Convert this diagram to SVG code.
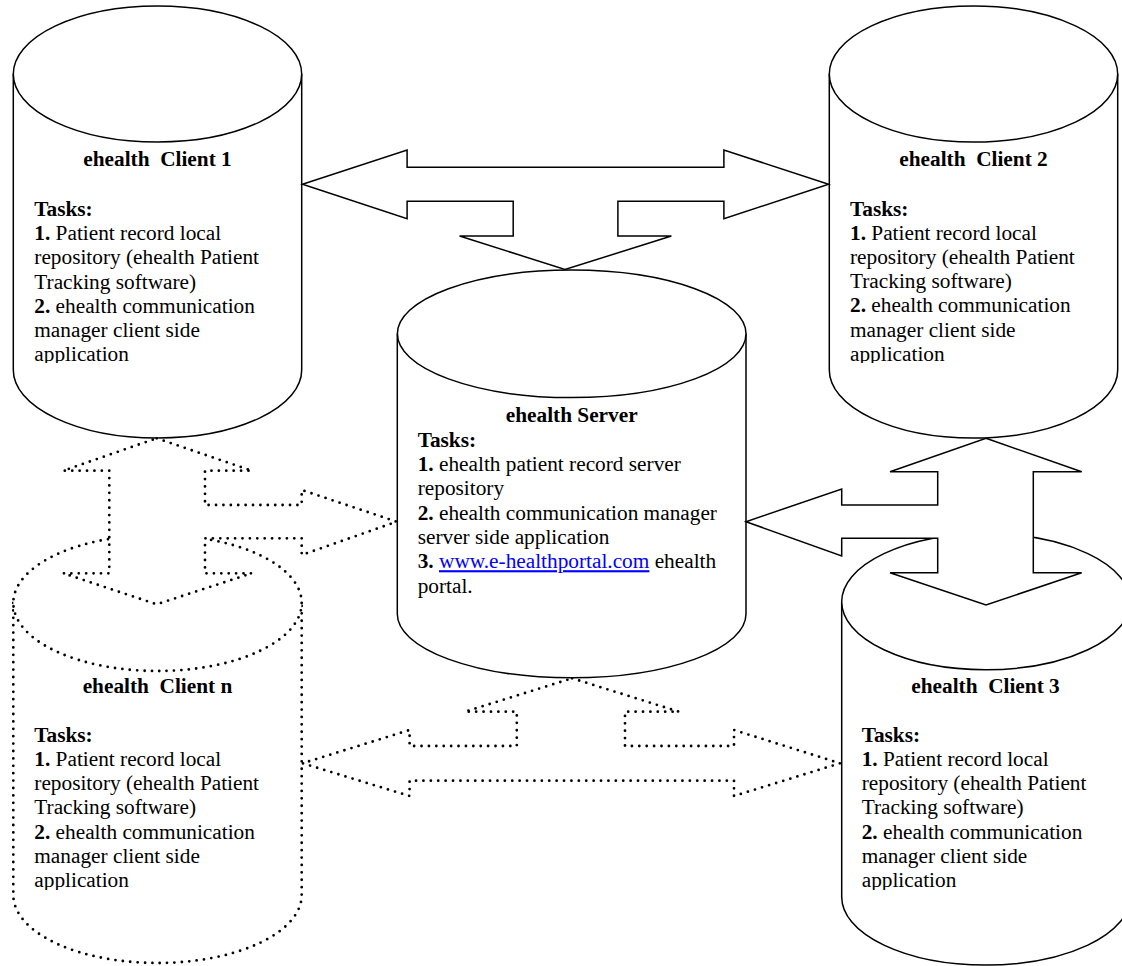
<svg xmlns="http://www.w3.org/2000/svg" width="1122" height="966" viewBox="0 0 1122 966">
<style>
.s{fill:#fff;stroke:#000;stroke-width:1.5}
.d{fill:#fff;stroke:#000;stroke-width:2.8;stroke-dasharray:0 7.4;stroke-linecap:round;stroke-linejoin:round}
text{font-family:"Liberation Serif","Times New Roman",serif;font-size:21.3px;fill:#000}
.b{font-weight:bold}
.lbl{font-weight:bold;text-anchor:middle}
.lnk{fill:#0000FF;text-decoration:underline}
</style>
<defs>
<clipPath id="c1"><rect x="0" y="140" width="320" height="223"/></clipPath>
<clipPath id="c2"><rect x="820" y="140" width="302" height="223"/></clipPath>
<clipPath id="cn"><rect x="0" y="670" width="320" height="220"/></clipPath>
<clipPath id="c3"><rect x="840" y="670" width="282" height="220"/></clipPath>
</defs>
<rect width="1122" height="966" fill="#fff"/>

<g id="client1">
<path class="s" d="M13.3,74 V370 A144.2,68 0 0 0 301.7,370 V74"/>
<ellipse class="s" cx="157.5" cy="74" rx="144.2" ry="68"/>
<text class="lbl" x="157.5" y="165.7" xml:space="preserve">ehealth  Client 1</text>
<g clip-path="url(#c1)">
<text x="34.3" y="216"><tspan class="b">Tasks:</tspan></text>
<text x="34.3" y="240.2"><tspan class="b">1.</tspan> Patient record local</text>
<text x="34.3" y="264.4">repository (ehealth Patient</text>
<text x="34.3" y="288.6">Tracking software)</text>
<text x="34.3" y="312.8"><tspan class="b">2.</tspan> ehealth communication</text>
<text x="34.3" y="337">manager client side</text>
<text x="34.3" y="361.2">application</text>
</g>
</g>

<g id="client2">
<path class="s" d="M829.3,74 V370 A144.2,68 0 0 0 1117.7,370 V74"/>
<ellipse class="s" cx="973.5" cy="74" rx="144.2" ry="68"/>
<text class="lbl" x="973.5" y="165.7" xml:space="preserve">ehealth  Client 2</text>
<g clip-path="url(#c2)">
<text x="850" y="215.5"><tspan class="b">Tasks:</tspan></text>
<text x="850" y="239.7"><tspan class="b">1.</tspan> Patient record local</text>
<text x="850" y="263.9">repository (ehealth Patient</text>
<text x="850" y="288.1">Tracking software)</text>
<text x="850" y="312.3"><tspan class="b">2.</tspan> ehealth communication</text>
<text x="850" y="336.5">manager client side</text>
<text x="850" y="360.7">application</text>
</g>
</g>

<g id="server">
<path class="s" d="M397.3,333.8 V614 A174.3,63.8 0 0 0 746,614 V333.8"/>
<ellipse class="s" cx="571.7" cy="333.8" rx="174.3" ry="63.8"/>
<text class="lbl" x="571.7" y="422.3">ehealth Server</text>
<text x="417.7" y="446.7"><tspan class="b">Tasks:</tspan></text>
<text x="417.7" y="471"><tspan class="b">1.</tspan> ehealth patient record server</text>
<text x="417.7" y="495.3">repository</text>
<text x="417.7" y="519.6"><tspan class="b">2.</tspan> ehealth communication manager</text>
<text x="417.7" y="543.9">server side application</text>
<text x="417.7" y="568.2" xml:space="preserve"><tspan class="b">3.</tspan> <tspan class="lnk">www.e-healthportal.com</tspan> ehealth</text>
<text x="417.7" y="592.5">portal.</text>
</g>

<g id="clientn">
<path class="d" d="M13.3,603 V895 A144.2,68 0 0 0 301.7,895 V603"/>
<ellipse class="d" cx="157.5" cy="603" rx="144.2" ry="68"/>
<text class="lbl" x="157.5" y="693" xml:space="preserve">ehealth  Client n</text>
<g clip-path="url(#cn)">
<text x="34.3" y="741.7"><tspan class="b">Tasks:</tspan></text>
<text x="34.3" y="765.9"><tspan class="b">1.</tspan> Patient record local</text>
<text x="34.3" y="790.1">repository (ehealth Patient</text>
<text x="34.3" y="814.3">Tracking software)</text>
<text x="34.3" y="838.5"><tspan class="b">2.</tspan> ehealth communication</text>
<text x="34.3" y="862.7">manager client side</text>
<text x="34.3" y="886.9">application</text>
</g>
</g>

<g id="client3">
<path class="s" d="M841.7,601.7 V897 A144.2,68 0 0 0 1130.1,897 V601.7"/>
<ellipse class="s" cx="985.9" cy="601.7" rx="144.2" ry="68"/>
<text class="lbl" x="985.5" y="693.3" xml:space="preserve">ehealth  Client 3</text>
<g clip-path="url(#c3)">
<text x="861.7" y="741.7"><tspan class="b">Tasks:</tspan></text>
<text x="861.7" y="765.9"><tspan class="b">1.</tspan> Patient record local</text>
<text x="861.7" y="790.1">repository (ehealth Patient</text>
<text x="861.7" y="814.3">Tracking software)</text>
<text x="861.7" y="838.5"><tspan class="b">2.</tspan> ehealth communication</text>
<text x="861.7" y="862.7">manager client side</text>
<text x="861.7" y="886.9">application</text>
</g>
</g>

<g id="connectors">
<path id="arrow-top" class="s" d="M302.5,184.3 L407.1,150 L407.1,167.3 L723.9,167.3 L723.9,150 L828.6,184.3 L723.9,218.7 L723.9,201.3 L617.9,201.3 L617.9,236 L671.4,236 L565,269.5 L459.6,236 L513.2,236 L513.2,201.3 L407.1,201.3 L407.1,218.7 Z"/>
<path id="arrow-left" class="d" d="M156.7,438.3 L251.7,470.7 L205,470.7 L205,505 L301.7,505 L301.7,490 L396.7,521.7 L301.7,555 L301.7,538.3 L205,538.3 L205,573.3 L251.7,573.3 L156.7,604.3 L63.3,573.3 L109.3,573.3 L109.3,470.7 L63.3,470.7 Z"/>
<path id="arrow-right" class="s" d="M986,438.3 L1081.7,471.7 L1033.3,471.7 L1033.3,572.7 L1081.7,572.7 L986,605 L890,572.7 L937.7,572.7 L937.7,538.3 L841.7,538.3 L841.7,556 L746,521.7 L841.7,489 L841.7,505 L937.7,505 L937.7,471.7 L890,471.7 Z"/>
<path id="arrow-bottom" class="d" d="M572.1,678.3 L679,711.7 L625,711.7 L625,746 L734,746 L734,730 L840,763.3 L734,796 L734,780.7 L409.6,780.7 L409.6,796 L302.5,763.3 L409.6,730 L409.6,746 L516.8,746 L516.8,711.7 L465,711.7 Z"/>
</g>
</svg>
